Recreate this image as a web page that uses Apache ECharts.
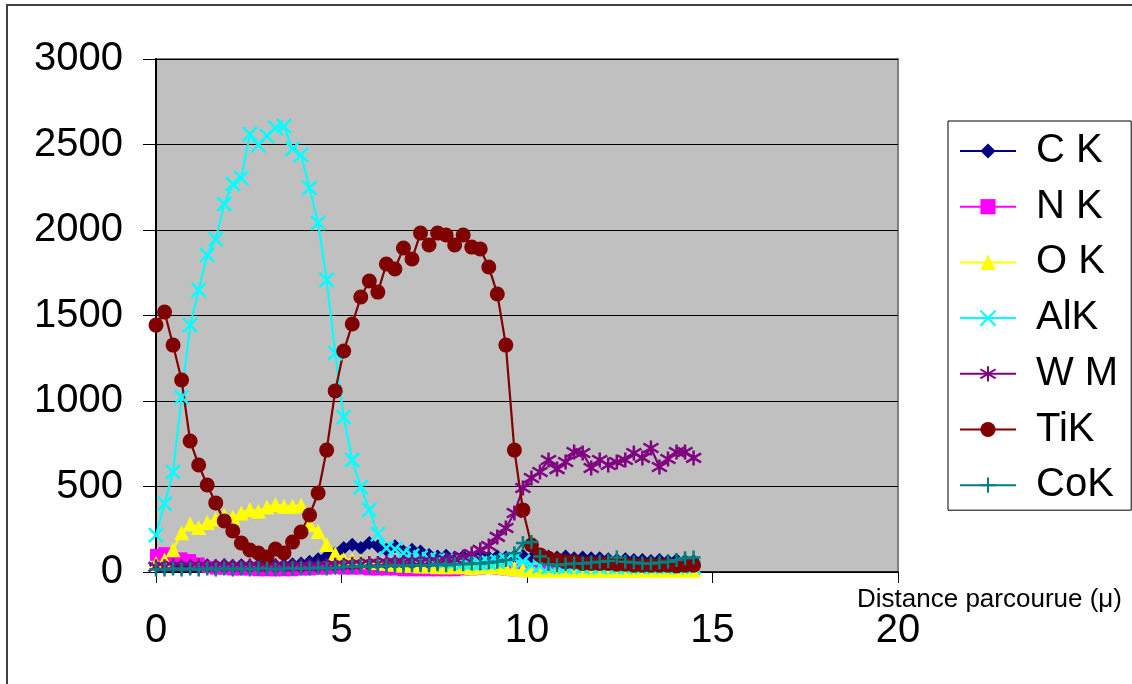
<!DOCTYPE html>
<html>
<head>
<meta charset="utf-8">
<script src="https://cdn.jsdelivr.net/npm/echarts@6/dist/echarts.min.js"></script>
<style>
  html, body { margin: 0; padding: 0; background: #ffffff; }
  #chart { width: 1132px; height: 684px; }
</style>
</head>
<body>
<div id="chart"></div>
<script>
// Distance travelled along the profile (µm)
const distances = [0, 0.23, 0.46, 0.69, 0.92, 1.15, 1.38, 1.61, 1.84, 2.07, 2.3, 2.53, 2.76, 2.99, 3.22, 3.45,
  3.68, 3.91, 4.14, 4.37, 4.6, 4.83, 5.06, 5.29, 5.52, 5.75, 5.98, 6.21, 6.44, 6.67, 6.9, 7.13,
  7.36, 7.59, 7.82, 8.05, 8.28, 8.51, 8.74, 8.97, 9.2, 9.43, 9.66, 9.89, 10.12, 10.35, 10.58, 10.81,
  11.04, 11.27, 11.5, 11.73, 11.96, 12.19, 12.42, 12.65, 12.88, 13.11, 13.34, 13.57, 13.8, 14.03, 14.26, 14.49];

// Counts per element line
const cK = [40, 45, 40, 35, 40, 35, 40, 35, 40, 35, 40, 35, 40, 35, 40, 40,
  45, 50, 60, 75, 90, 110, 140, 160, 140, 170, 150, 130, 150, 120, 130, 120,
  100, 90, 95, 85, 90, 85, 90, 85, 90, 85, 90, 95, 80, 85, 90, 85,
  90, 80, 85, 80, 80, 75, 70, 75, 70, 70, 65, 70, 65, 70, 65, 65];
const nK = [100, 110, 80, 80, 70, 50, 30, 20, 20, 15, 15, 15, 10, 10, 10, 10,
  10, 15, 15, 20, 20, 25, 20, 20, 20, 15, 15, 15, 15, 10, 10, 10,
  10, 10, 10, 10, 15, 15, 20, 25, 20, 15, 10, 5, 5, 5, 5, 5,
  5, 5, 5, 5, 5, 5, 5, 5, 5, 5, 5, 5, 5, 5, 5, 5];
const oK = [50, 70, 130, 230, 280, 260, 290, 310, 330, 320, 345, 365, 355, 380, 395, 385,
  385, 390, 278, 237, 161, 108, 73, 70, 65, 60, 55, 50, 45, 40, 40, 35,
  35, 30, 30, 30, 30, 25, 30, 30, 30, 25, 20, 15, 12, 10, 10, 10,
  10, 10, 10, 10, 10, 10, 10, 10, 10, 10, 10, 10, 10, 10, 10, 10];
const alK = [216, 400, 585, 1023, 1444, 1649, 1854, 1947, 2152, 2269, 2304, 2561, 2497, 2550, 2597, 2608,
  2474, 2439, 2246, 2041, 1708, 1280, 906, 655, 497, 363, 222, 140, 134, 110, 95, 85,
  75, 70, 65, 60, 55, 55, 50, 55, 60, 70, 80, 60, 40, 35, 30, 35,
  30, 35, 30, 35, 30, 35, 30, 30, 35, 30, 30, 35, 30, 30, 35, 30];
const wM = [30, 30, 35, 30, 30, 35, 30, 30, 35, 30, 30, 35, 30, 30, 35, 30,
  30, 35, 30, 35, 35, 40, 40, 45, 45, 50, 50, 55, 55, 55, 60, 55,
  60, 60, 70, 75, 88, 105, 129, 152, 205, 257, 345, 491, 550, 585, 655, 602,
  643, 702, 696, 608, 655, 626, 643, 655, 696, 667, 725, 614, 661, 702, 702, 667];
const tiK = [1444, 1520, 1327, 1123, 766, 626, 509, 404, 298, 240, 170, 129, 111, 88, 134, 111,
  175, 234, 333, 462, 713, 1059, 1292, 1450, 1608, 1702, 1637, 1801, 1772, 1895, 1830, 1982,
  1912, 1982, 1971, 1912, 1971, 1900, 1889, 1784, 1626, 1327, 713, 363, 158, 100, 80, 70,
  60, 60, 50, 50, 50, 50, 45, 45, 40, 40, 40, 40, 40, 35, 40, 40];
const coK = [15, 15, 20, 15, 20, 15, 20, 15, 20, 15, 20, 15, 20, 20, 15, 20,
  20, 20, 20, 25, 20, 25, 30, 30, 35, 30, 35, 35, 40, 35, 40, 40,
  40, 45, 40, 45, 45, 50, 50, 55, 60, 70, 110, 170, 175, 90, 45, 40,
  45, 50, 50, 55, 60, 65, 85, 60, 55, 50, 50, 55, 60, 70, 80, 85];

const seriesNames = ['C K', 'N K', 'O K', 'AlK', 'W M', 'TiK', 'CoK'];
const seriesValues = [cK, nK, oK, alK, wM, tiK, coK];

const xTicks = { min: 0, max: 20, interval: 5 };
const yTicks = { min: 0, max: 3000, interval: 500 };
const xAxisTitle = 'Distance parcourue (\u03bc)';

// Marker shapes and colours for each line
const FONT = '"Liberation Sans", Arial, Helvetica, sans-serif';
const styles = [
  { color: '#000080', symbol: 'diamond', size: 14, stroke: 0 },
  { color: '#ff00ff', symbol: 'rect', size: 12, stroke: 0 },
  { color: '#ffff00', symbol: 'triangle', size: 15, stroke: 0 },
  { color: '#00ffff', symbol: 'path://M0,0L10,10M10,0L0,10', size: 14, stroke: 2.5 },
  { color: '#800080', symbol: 'path://M5,0L5,10M0.7,2L9.3,8M9.3,2L0.7,8', size: 15, stroke: 2.5 },
  { color: '#800000', symbol: 'circle', size: 15, stroke: 0 },
  { color: '#008080', symbol: 'path://M5,0L5,10M0,5L10,5', size: 14, stroke: 2.5 }
];

const series = seriesNames.map((name, k) => {
  const st = styles[k];
  return {
    name: name,
    type: 'line',
    data: distances.map((d, i) => [d, seriesValues[k][i]]),
    symbol: st.symbol,
    symbolSize: st.size,
    showAllSymbol: true,
    lineStyle: { color: st.color, width: 2.2 },
    itemStyle: { color: st.color, borderColor: st.color, borderWidth: st.stroke },
    emphasis: { disabled: true },
    animation: false
  };
});

const chart = echarts.init(document.getElementById('chart'), null, { renderer: 'canvas' });
chart.setOption({
  animation: false,
  backgroundColor: '#ffffff',
  textStyle: { fontFamily: FONT },
  graphic: [{
    type: 'rect',
    silent: true,
    z: -10,
    shape: { x: 7, y: 5, width: 1300, height: 900 },
    style: { fill: null, stroke: '#404040', lineWidth: 2 }
  }],
  grid: {
    left: 156, top: 59, right: 234, bottom: 112,
    show: true,
    backgroundColor: '#c0c0c0',
    borderColor: '#808080',
    borderWidth: 2,
    containLabel: false,
    outerBoundsMode: 'none'
  },
  legend: {
    orient: 'vertical',
    left: 948,
    top: 121,
    padding: [8, 13, 3, 11],
    itemGap: 11.7,
    itemWidth: 56,
    itemHeight: 19,
    borderColor: '#000000',
    borderWidth: 1,
    backgroundColor: '#ffffff',
    selectedMode: false,
    textStyle: { fontSize: 40, lineHeight: 44, color: '#000000', fontFamily: FONT, padding: [0, 0, 0, 15] },
    data: seriesNames
  },
  xAxis: {
    type: 'value',
    min: xTicks.min, max: xTicks.max, interval: xTicks.interval,
    name: xAxisTitle,
    nameLocation: 'end',
    nameGap: -41,
    nameMoveOverlap: false,
    nameTextStyle: { fontSize: 26, lineHeight: 26, color: '#000000', fontFamily: FONT, align: 'left', verticalAlign: 'top', padding: [15, 0, 0, 0] },
    axisLine: { show: true, onZero: false, lineStyle: { color: '#000000', width: 1.5 } },
    axisTick: { show: true, inside: false, length: 11, lineStyle: { color: '#000000', width: 1 } },
    axisLabel: { fontSize: 40, color: '#000000', fontFamily: FONT, margin: 39, formatter: (v) => String(v) },
    splitLine: { show: false }
  },
  yAxis: {
    type: 'value',
    min: yTicks.min, max: yTicks.max, interval: yTicks.interval,
    axisLine: { show: true, lineStyle: { color: '#000000', width: 2 } },
    axisTick: { show: true, inside: false, length: 13, lineStyle: { color: '#000000', width: 1 } },
    axisLabel: { fontSize: 40, color: '#000000', fontFamily: FONT, margin: 33, formatter: (v) => String(v) },
    splitLine: { show: true, lineStyle: { color: '#000000', width: 1 } }
  },
  series: series
});
</script>
</body>
</html>
